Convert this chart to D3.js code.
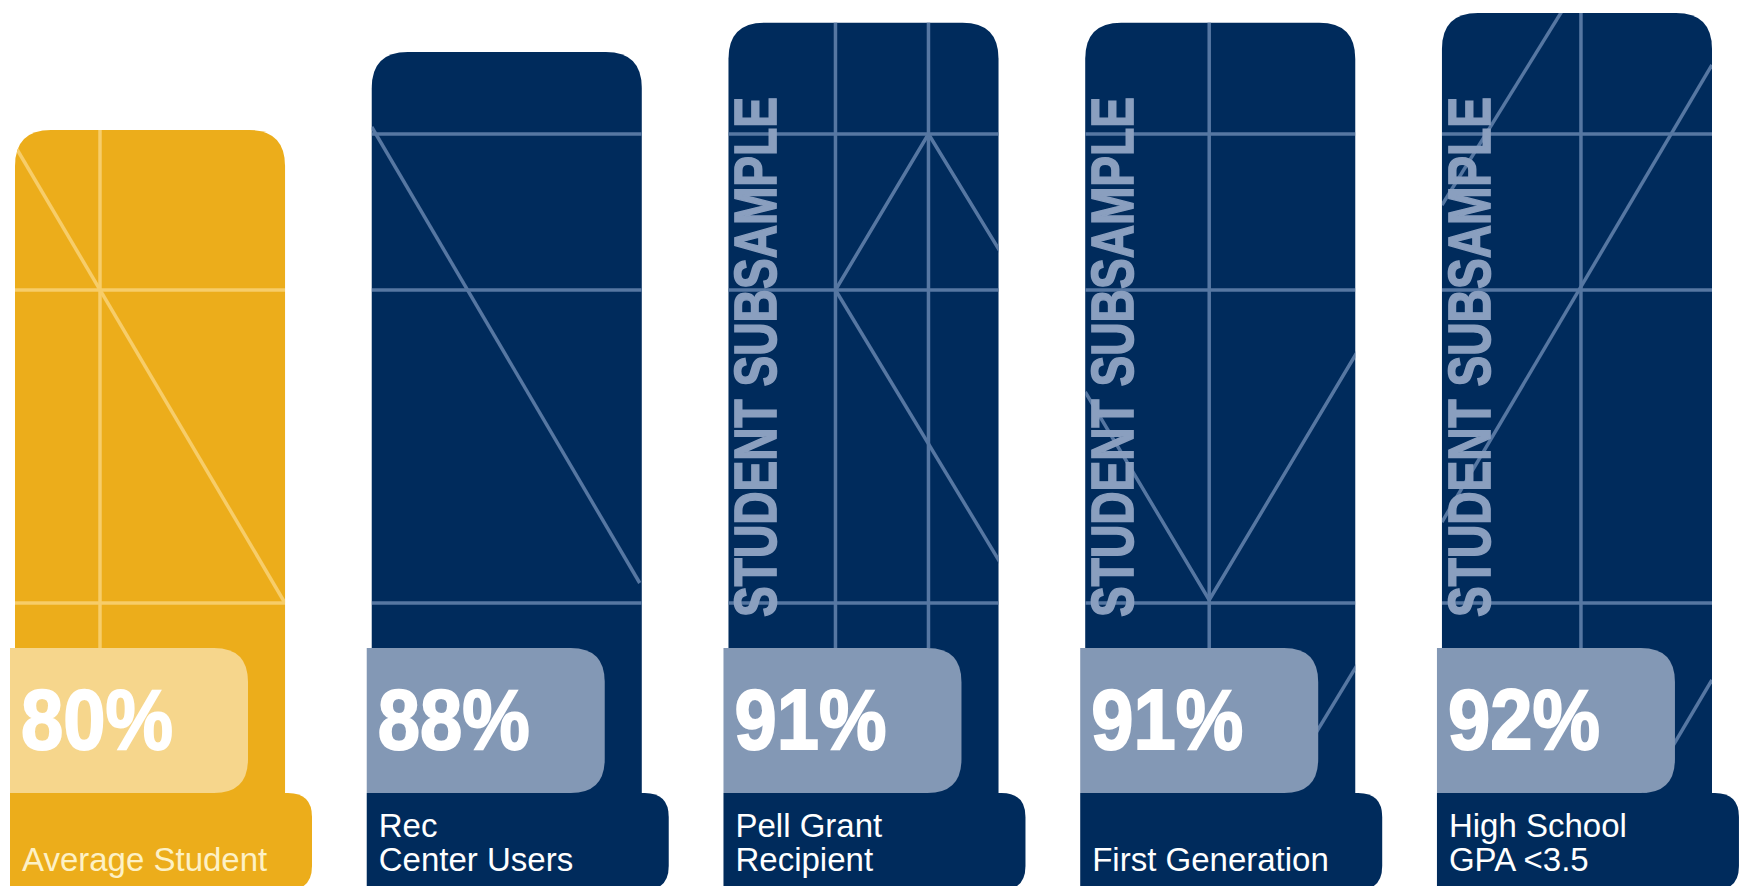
<!DOCTYPE html>
<html>
<head>
<meta charset="utf-8">
<script src="https://cdn.jsdelivr.net/npm/d3@7"></script>
<style>
  html, body { margin: 0; padding: 0; background: #fff; overflow: hidden; }
  svg { display: block; }
</style>
</head>
<body>
<div id="chart"></div>
<script>
  var categories = ["Average Student", "Rec Center Users", "Pell Grant Recipient", "First Generation", "High School GPA <3.5"];
  var labelLines = [["Average Student"], ["Rec", "Center Users"], ["Pell Grant", "Recipient"], ["First Generation"], ["High School", "GPA <3.5"]];
  var values = [80, 88, 91, 91, 92];
  var subsample = [false, false, true, true, true];
  var subsampleText = "STUDENT SUBSAMPLE";

  // blueprint style decoration inside each bar (x relative to bar left)
  var gridV = [[85], [], [107, 200], [124], [139]];
  var gridH = [[290, 603], [134, 290, 603], [134, 290, 603], [134, 290, 603], [134, 290, 603]];
  var diag = [
    [[[0, 146], [270, 603]]],
    [[[0, 127], [268, 583]]],
    [[[107, 290], [200, 134], [272, 252]], [[107, 290], [272, 563]]],
    [[[0, 392], [124, 600], [272, 352]], [[190, 800], [272, 665]]],
    [[[0, 205], [130, -5]], [[0, 522], [270, 65]], [[190, 815], [270, 680]]]
  ];

  var W = 1743, H = 886;
  var svg = d3.select("#chart").append("svg").attr("width", W).attr("height", H);

  var x = d3.scaleBand().domain(categories).range([15, 1712]).paddingInner(0.243).paddingOuter(0);
  var y = d3.scaleLinear().domain([80, 92]).range([130, 13]);
  var bw = x.bandwidth();

  var barBottom = 800, boxTop = 648, boxBottom = 793, tabBottom = 890;

  function roundTop(x0, y0, w, h, r) {
    return "M" + x0 + "," + (y0 + h) + "V" + (y0 + r) +
      "Q" + x0 + "," + y0 + " " + (x0 + r) + "," + y0 +
      "H" + (x0 + w - r) +
      "Q" + (x0 + w) + "," + y0 + " " + (x0 + w) + "," + (y0 + r) +
      "V" + (y0 + h) + "Z";
  }
  function roundRight(x0, y0, w, h, r) {
    return "M" + x0 + "," + y0 + "H" + (x0 + w - r) +
      "Q" + (x0 + w) + "," + y0 + " " + (x0 + w) + "," + (y0 + r) +
      "V" + (y0 + h - r) +
      "Q" + (x0 + w) + "," + (y0 + h) + " " + (x0 + w - r) + "," + (y0 + h) +
      "H" + x0 + "Z";
  }

  var data = categories.map(function (c, i) {
    return { cat: c, lines: labelLines[i], value: values[i], sub: subsample[i], i: i, avg: i === 0 };
  });

  var defs = svg.append("defs");
  defs.selectAll("clipPath").data(data).enter().append("clipPath")
    .attr("id", d => "clip" + d.i)
    .append("path")
    .attr("d", d => roundTop(x(d.cat), y(d.value), bw, barBottom - y(d.value), 36));

  var g = svg.selectAll("g.bar").data(data).enter().append("g").attr("class", "bar");

  g.append("path")
    .attr("d", d => roundTop(x(d.cat), y(d.value), bw, barBottom - y(d.value), 36))
    .attr("fill", d => d.avg ? "#ecad1b" : "#002b5c");

  var deco = g.append("g").attr("clip-path", d => "url(#clip" + d.i + ")")
    .attr("stroke", d => d.avg ? "#f7cd69" : "#5677a2")
    .attr("stroke-width", 3.5)
    .attr("fill", "none");

  deco.each(function (d) {
    var left = x(d.cat);
    var sel = d3.select(this);
    gridH[d.i].forEach(function (yy) {
      sel.append("line").attr("x1", left).attr("x2", left + bw).attr("y1", yy).attr("y2", yy);
    });
    gridV[d.i].forEach(function (xx) {
      sel.append("line").attr("x1", left + xx).attr("x2", left + xx).attr("y1", 0).attr("y2", boxTop);
    });
    diag[d.i].forEach(function (pts) {
      sel.append("path").attr("d", d3.line()(pts.map(p => [left + p[0], p[1]])));
    });
  });

  // condensed vertical label: small font stretched across the reading direction
  g.filter(d => d.sub).append("text")
    .attr("transform", d => "translate(" + (x(d.cat) + 48) + ",617) rotate(-90) scale(1,1.3)")
    .attr("font-family", "'Liberation Sans', Arial, sans-serif")
    .attr("font-weight", "bold")
    .attr("font-size", 46)
    .attr("textLength", 520)
    .attr("lengthAdjust", "spacingAndGlyphs")
    .attr("fill", "#8a9fbf")
    .attr("stroke", "#8a9fbf")
    .attr("stroke-width", 1.3)
    .text(subsampleText);

  // value box
  g.append("path")
    .attr("d", d => roundRight(x(d.cat) - 5, boxTop, 238, boxBottom - boxTop, 34))
    .attr("fill", d => d.avg ? "#f6d68c" : "#8398b5");

  // category tab
  g.append("path")
    .attr("d", d => roundRight(x(d.cat) - 5, boxBottom, 302, tabBottom - boxBottom, 24))
    .attr("fill", d => d.avg ? "#ecad1b" : "#002b5c");

  g.append("text")
    .attr("x", d => x(d.cat) + 6)
    .attr("y", 749)
    .attr("font-family", "'Liberation Sans', Arial, sans-serif")
    .attr("font-weight", "bold")
    .attr("font-size", 86)
    .attr("textLength", 152)
    .attr("lengthAdjust", "spacingAndGlyphs")
    .attr("fill", "#ffffff")
    .attr("stroke", "#ffffff")
    .attr("stroke-width", 2)
    .text(d => d.value + "%");

  g.append("text")
    .attr("font-family", "'Liberation Sans', Arial, sans-serif")
    .attr("font-size", 33)
    .attr("fill", d => d.avg ? "#fdf1c6" : "#ffffff")
    .each(function (d) {
      var t = d3.select(this);
      var n = d.lines.length;
      d.lines.forEach(function (s, k) {
        t.append("tspan")
          .attr("x", x(d.cat) + 7)
          .attr("y", 871 - (n - 1 - k) * 34)
          .text(s);
      });
    });
</script>
</body>
</html>
